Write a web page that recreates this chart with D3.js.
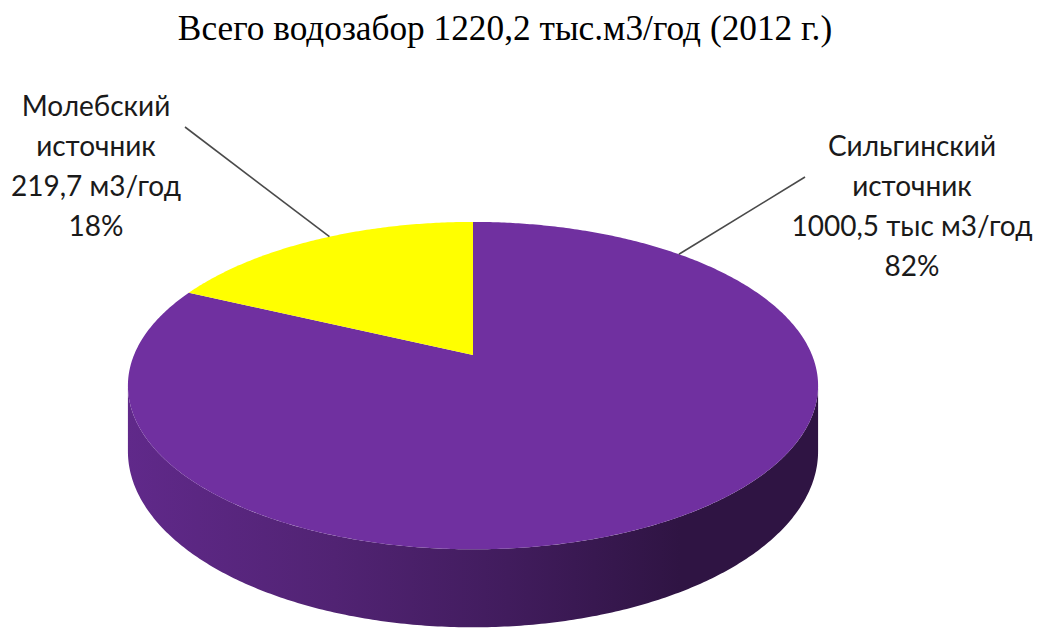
<!DOCTYPE html>
<html>
<head>
<meta charset="utf-8">
<script src="https://cdn.jsdelivr.net/npm/d3@7.9.0/dist/d3.min.js"></script>
<style>
  html, body { margin: 0; padding: 0; background: #fff; }
  svg { display: block; }
</style>
</head>
<body>
<svg id="chart" width="1038" height="628"></svg>
<script>
// ---------- data ----------
const title = "Всего водозабор 1220,2 тыс.м3/год (2012 г.)";
const sources = ["Сильгинский", "Молебский"];
const values = [1000.5, 219.7];
const valueLabels = ["1000,5 тыс м3/год", "219,7 м3/год"];
const percentLabels = ["82%", "18%"];
const sliceColors = ["#7030A0", "#FFFF00"];

// ---------- layout ----------
const W = 1038, H = 628;
const cx = 473, cy = 355;      // projected centre of the top face
const A = 339, B = 158;        // horizontal / vertical radii before perspective
const K = 0.187;               // perspective strength (back is smaller)
const D = 63.4;                // thickness of the pie
// label boxes: centre x, first baseline, leader start, leader angle on the pie (deg)
const labelLayout = [
  { x: 912, y: 156, lx: 805, ly: 177, angle: 43.6 },
  { x: 96,  y: 116, lx: 185, ly: 127, angle: -29.5 }
];

const svg = d3.select("#chart");

// perspective projection of a point on the rim (theta clockwise from 12 o'clock)
function proj(theta, h = 0, r = 1) {
  const X = Math.sin(theta) * r, Z = Math.cos(theta) * r;
  const p = 1 / (1 + K * Z);
  return [cx + A * X * p, cy - B * Z * p + h * D * p];
}

const pie = d3.pie().value(d => d).sort(null);
const arcs = pie(values);
const line = d3.line();

function rimPoints(a0, a1, h) {
  const n = Math.max(2, Math.ceil(Math.abs(a1 - a0) / 0.01));
  return d3.range(n + 1).map(i => proj(a0 + (a1 - a0) * i / n, h));
}

// ---------- side gradient ----------
const defs = svg.append("defs");
sliceColors.forEach((c, i) => {
  const g = defs.append("linearGradient")
    .attr("id", "side" + i)
    .attr("gradientUnits", "userSpaceOnUse")
    .attr("x1", cx - A * 1.02).attr("x2", cx + A * 1.02)
    .attr("y1", 0).attr("y2", 0);
  const base = d3.rgb(c);
  [[0, 0.86], [0.3, 0.72], [0.55, 0.58], [0.8, 0.42], [1, 0.42]].forEach(([o, f]) => {
    g.append("stop").attr("offset", o)
      .attr("stop-color", d3.rgb(base.r * f, base.g * f, base.b * f).formatHex());
  });
});

// ---------- side walls (front half only) ----------
const thR = Math.acos(-K), thL = 2 * Math.PI - thR;
arcs.forEach((a, i) => {
  const a0 = Math.max(a.startAngle, thR), a1 = Math.min(a.endAngle, thL);
  if (a1 <= a0) return;
  const pts = rimPoints(a0, a1, 0).concat(rimPoints(a1, a0, 1));
  svg.append("path")
    .attr("d", line(pts) + "Z")
    .attr("fill", `url(#side${i})`);
});

// ---------- top faces ----------
arcs.forEach((a, i) => {
  const pts = [proj(0, 0, 0)].concat(rimPoints(a.startAngle, a.endAngle, 0));
  svg.append("path")
    .attr("d", line(pts) + "Z")
    .attr("fill", sliceColors[i]);
});

// ---------- title ----------
svg.append("text")
  .attr("x", 505).attr("y", 40)
  .attr("text-anchor", "middle")
  .attr("font-family", "'Liberation Serif', 'Times New Roman', serif")
  .attr("font-size", 35.3)
  .attr("fill", "#000")
  .text(title);

// ---------- labels + leaders ----------
arcs.forEach((a, i) => {
  const L = labelLayout[i];
  const end = proj(L.angle * Math.PI / 180, 0, 1);
  svg.append("line")
    .attr("x1", L.lx).attr("y1", L.ly)
    .attr("x2", end[0]).attr("y2", end[1])
    .attr("stroke", "#4a4a4a").attr("stroke-width", 1.6);

  const t = svg.append("text")
    .attr("text-anchor", "middle")
    .attr("font-family", "Lato, 'Open Sans', sans-serif")
    .attr("font-size", 28)
    .attr("fill", "#1a1a1a");
  [sources[i], "источник", valueLabels[i], percentLabels[i]].forEach((s, j) => {
    t.append("tspan").attr("x", L.x).attr("y", L.y + j * 40).text(s);
  });
});
</script>
</body>
</html>
